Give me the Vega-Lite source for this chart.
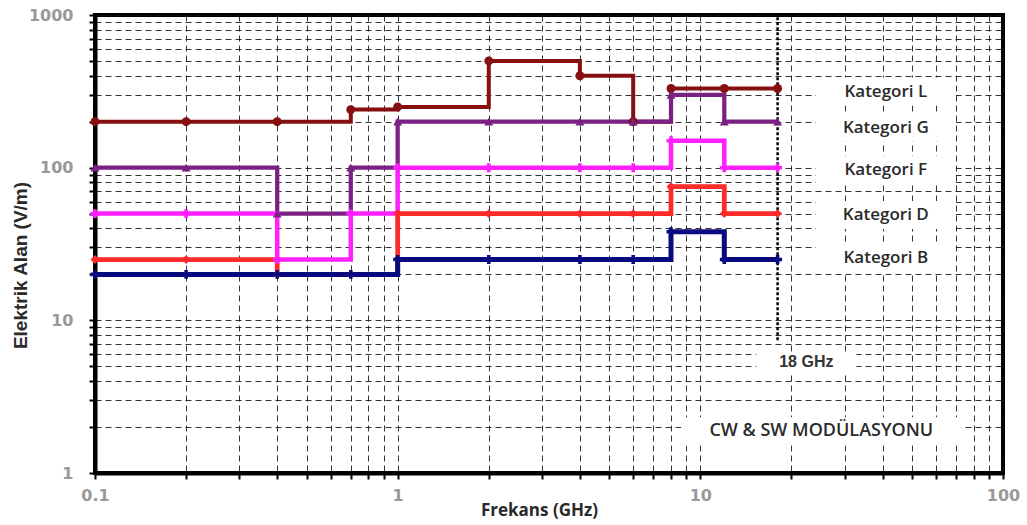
{
  "$schema": "https://vega.github.io/schema/vega-lite/v6.json",
  "width": 908,
  "height": 458,
  "autosize": "none",
  "padding": {"left": 95, "top": 15, "right": 24, "bottom": 52},
  "background": "white",
  "config": {
    "view": {"stroke": "black", "strokeWidth": 4},
    "axis": {
      "grid": true,
      "gridColor": "#111",
      "gridDash": [6, 4],
      "gridWidth": 1,
      "gridOpacity": 0.85,
      "domainColor": "black",
      "domainWidth": 4,
      "tickColor": "black",
      "tickWidth": 2,
      "tickSize": 6,
      "labelColor": "#999999",
      "labelFont": "DejaVu Sans",
      "labelFontWeight": "bold",
      "labelFontSize": 16,
      "labelOverlap": false,
      "labelFlush": false,
      "titleColor": "#2a2a2a"
    }
  },
  "datasets": {
    "series": [
      {"cat": "L", "f": 0.1, "v": 200}, {"cat": "L", "f": 0.2, "v": 200}, {"cat": "L", "f": 0.4, "v": 200}, {"cat": "L", "f": 0.7, "v": 240}, {"cat": "L", "f": 1, "v": 250}, {"cat": "L", "f": 2, "v": 500}, {"cat": "L", "f": 4, "v": 400}, {"cat": "L", "f": 6, "v": 200}, {"cat": "L", "f": 8, "v": 330}, {"cat": "L", "f": 12, "v": 330}, {"cat": "L", "f": 18, "v": 330},
      {"cat": "G", "f": 0.1, "v": 100}, {"cat": "G", "f": 0.2, "v": 100}, {"cat": "G", "f": 0.4, "v": 50}, {"cat": "G", "f": 0.7, "v": 100}, {"cat": "G", "f": 1, "v": 200}, {"cat": "G", "f": 2, "v": 200}, {"cat": "G", "f": 4, "v": 200}, {"cat": "G", "f": 6, "v": 200}, {"cat": "G", "f": 8, "v": 300}, {"cat": "G", "f": 12, "v": 200}, {"cat": "G", "f": 18, "v": 200},
      {"cat": "F", "f": 0.1, "v": 50}, {"cat": "F", "f": 0.2, "v": 50}, {"cat": "F", "f": 0.4, "v": 25}, {"cat": "F", "f": 0.7, "v": 50}, {"cat": "F", "f": 1, "v": 100}, {"cat": "F", "f": 2, "v": 100}, {"cat": "F", "f": 4, "v": 100}, {"cat": "F", "f": 6, "v": 100}, {"cat": "F", "f": 8, "v": 150}, {"cat": "F", "f": 12, "v": 100}, {"cat": "F", "f": 18, "v": 100},
      {"cat": "D", "f": 0.1, "v": 25}, {"cat": "D", "f": 0.2, "v": 25}, {"cat": "D", "f": 0.4, "v": 20}, {"cat": "D", "f": 0.7, "v": 20}, {"cat": "D", "f": 1, "v": 50}, {"cat": "D", "f": 2, "v": 50}, {"cat": "D", "f": 4, "v": 50}, {"cat": "D", "f": 6, "v": 50}, {"cat": "D", "f": 8, "v": 75}, {"cat": "D", "f": 12, "v": 50}, {"cat": "D", "f": 18, "v": 50},
      {"cat": "B", "f": 0.1, "v": 20}, {"cat": "B", "f": 0.2, "v": 20}, {"cat": "B", "f": 0.4, "v": 20}, {"cat": "B", "f": 0.7, "v": 20}, {"cat": "B", "f": 1, "v": 25}, {"cat": "B", "f": 2, "v": 25}, {"cat": "B", "f": 4, "v": 25}, {"cat": "B", "f": 6, "v": 25}, {"cat": "B", "f": 8, "v": 38}, {"cat": "B", "f": 12, "v": 25}, {"cat": "B", "f": 18, "v": 25}
    ],
    "labels": [
      {"text": "Kategori L", "f": 41, "v": 315},
      {"text": "Kategori G", "f": 41, "v": 183},
      {"text": "Kategori F", "f": 41, "v": 97},
      {"text": "Kategori D", "f": 41, "v": 49},
      {"text": "Kategori B", "f": 41, "v": 25.5}
    ],
    "one": [{"k": 1}]
  },
  "layer": [
    {
      "data": {"name": "labels"},
      "mark": {"type": "point", "shape": "M-5,-1H5V1H-5Z", "filled": true, "fill": "white", "opacity": 1, "size": 784, "strokeWidth": 0},
      "encoding": {
        "x": {"field": "f", "type": "quantitative", "scale": {"type": "log", "domain": [0.1, 100], "nice": false},
          "axis": {"title": "Frekans (GHz)", "titleFont": "Open Sans", "titleFontWeight": "bold", "titleFontSize": 17,
            "titleX": 444, "titleY": 37, "titleBaseline": "middle", "titleAlign": "center", "labelPadding": 8,
            "values": [0.1,0.2,0.3,0.4,0.5,0.6,0.7,0.8,0.9,1,2,3,4,5,6,7,8,9,10,20,30,40,50,60,70,80,90,100],
            "labelExpr": "indexof([0.1,1,10,100], datum.value) >= 0 ? format(datum.value, '~g') : ''"}},
        "y": {"field": "v", "type": "quantitative", "scale": {"type": "log", "domain": [1, 1000], "nice": false},
          "axis": {"title": "Elektrik Alan (V/m)", "titleFont": "Liberation Sans", "titleFontWeight": "bold", "titleFontSize": 19,
            "titleX": -75, "titleY": 250, "titleBaseline": "middle", "titleAlign": "center", "titleAngle": -90, "labelPadding": 16,
            "values": [1,2,3,4,5,6,7,8,9,10,20,30,40,50,60,70,80,90,100,200,300,400,500,600,700,800,900,1000],
            "labelExpr": "indexof([1,10,100,1000], datum.value) >= 0 ? format(datum.value, '~g') : ''"}}
      }
    },
    {
      "data": {"name": "one"},
      "mark": {"type": "point", "shape": "M-10,-1H10V1H-10Z", "filled": true, "fill": "white", "opacity": 1, "size": 784, "strokeWidth": 0},
      "encoding": {"x": {"datum": 25.1, "type": "quantitative"}, "y": {"datum": 1.88, "type": "quantitative"}}
    },
    {
      "data": {"name": "one"},
      "mark": {"type": "point", "shape": "M-5,-1H5V1H-5Z", "filled": true, "fill": "white", "opacity": 1, "size": 400, "strokeWidth": 0},
      "encoding": {"x": {"datum": 22.4, "type": "quantitative"}, "y": {"datum": 5.3, "type": "quantitative"}}
    },
    {
      "data": {"name": "one"},
      "mark": {"type": "rule", "color": "black", "strokeWidth": 2.5, "strokeDash": [3, 2]},
      "encoding": {"x": {"datum": 18, "type": "quantitative"}, "y": {"datum": 7.4, "type": "quantitative"}, "y2": {"datum": 1000}}
    },
    {
      "data": {"name": "series"},
      "mark": {"type": "line", "interpolate": "step-after", "strokeJoin": "miter", "strokeCap": "butt"},
      "encoding": {
        "x": {"field": "f", "type": "quantitative"},
        "y": {"field": "v", "type": "quantitative"},
        "color": {"field": "cat", "type": "nominal", "legend": null,
          "scale": {"domain": ["B", "D", "F", "G", "L"], "range": ["#0a0a80", "#ff2a2a", "#ff1fff", "#7b2183", "#860f0f"]}},
        "strokeWidth": {"field": "cat", "type": "nominal", "legend": null,
          "scale": {"domain": ["B", "D", "F", "G", "L"], "range": [5, 4, 5.5, 4.5, 6]}},
        "order": {"field": "f", "type": "quantitative"}
      }
    },
    {
      "data": {"name": "series"},
      "mark": {"type": "point", "filled": true, "opacity": 1, "size": 80},
      "encoding": {
        "x": {"field": "f", "type": "quantitative"},
        "y": {"field": "v", "type": "quantitative"},
        "color": {"field": "cat", "type": "nominal", "legend": null},
        "shape": {"field": "cat", "type": "nominal", "legend": null,
          "scale": {"domain": ["B", "D", "F", "G", "L"], "range": ["cross", "diamond", "cross", "triangle-up", "circle"]}}
      }
    },
    {
      "data": {"name": "labels"},
      "mark": {"type": "text", "font": "Open Sans", "fontWeight": 600, "fontSize": 17, "color": "#2a2a2a", "align": "center", "baseline": "middle"},
      "encoding": {
        "x": {"field": "f", "type": "quantitative"},
        "y": {"field": "v", "type": "quantitative"},
        "text": {"field": "text"}
      }
    },
    {
      "data": {"name": "one"},
      "mark": {"type": "text", "text": "18 GHz", "font": "Liberation Sans", "fontWeight": "bold", "fontSize": 16, "color": "#333", "align": "center", "baseline": "middle"},
      "encoding": {"x": {"datum": 22.4, "type": "quantitative"}, "y": {"datum": 5.3, "type": "quantitative"}}
    },
    {
      "data": {"name": "one"},
      "mark": {"type": "text", "text": "CW & SW MODÜLASYONU", "font": "Open Sans", "fontWeight": 600, "fontSize": 18, "color": "#2a2a2a", "align": "center", "baseline": "middle"},
      "encoding": {"x": {"datum": 25.1, "type": "quantitative"}, "y": {"datum": 1.88, "type": "quantitative"}}
    }
  ]
}
